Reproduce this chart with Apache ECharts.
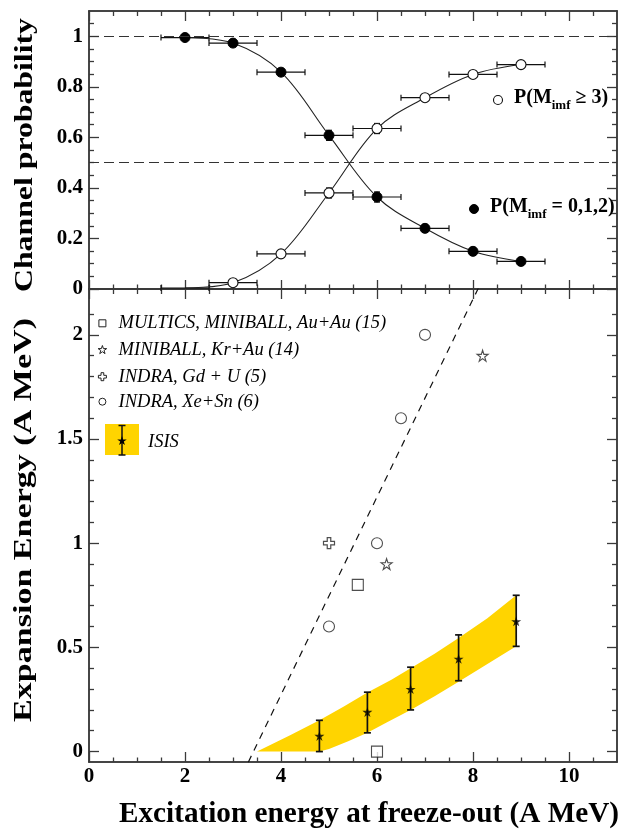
<!DOCTYPE html>
<html><head><meta charset="utf-8">
<script src="https://cdn.jsdelivr.net/npm/echarts@6/dist/echarts.min.js"></script>
<style>html,body{margin:0;padding:0;background:#fff}#c{width:623px;height:832px}</style>
</head><body><div id="c"></div>
<script>
// ---------- top panel: channel probabilities ----------
const probX = [2, 3, 4, 5, 6, 7, 8, 9];
const probXErr = [0.5, 0.5, 0.5, 0.5, 0.5, 0.5, 0.5, 0.5];
const probLow = [0.995, 0.973, 0.858, 0.608, 0.364, 0.240, 0.149, 0.109];   // P(Mimf = 0,1,2)
const probLowErr = [0.004, 0.006, 0.008, 0.02, 0.02, 0.015, 0.015, 0.015];
const probHigh = [0.004, 0.025, 0.139, 0.380, 0.635, 0.757, 0.849, 0.888]; // P(Mimf >= 3)
const probHighErr = [0.0, 0.005, 0.008, 0.02, 0.02, 0.012, 0.012, 0.012];
const refLevels = [1, 0.5];

// ---------- bottom panel: expansion energy ----------
const multicsX = [5.6, 6.0], multicsY = [0.80, 0.0];
const krAuX = [6.2, 8.2], krAuY = [0.90, 1.90];
const gdUX = [5.0], gdUY = [1.0];
const xeSnX = [5.0, 6.0, 6.5, 7.0], xeSnY = [0.60, 1.0, 1.60, 2.0];
const isisX = [4.8, 5.8, 6.7, 7.7, 8.9];
const isisY = [0.075, 0.19, 0.30, 0.445, 0.625];
const isisLo = [0.0, 0.09, 0.20, 0.34, 0.505];
const isisHi = [0.15, 0.285, 0.405, 0.56, 0.75];
const bandUpperX = [3.5, 4.2, 4.8, 5.3, 5.8, 6.3, 6.7, 7.2, 7.7, 8.3, 8.9];
const bandUpperY = [0.0, 0.08, 0.15, 0.215, 0.283, 0.345, 0.40, 0.47, 0.545, 0.64, 0.75];
const bandLowerX = [3.5, 4.8, 5.0, 5.4, 5.8, 6.2, 6.7, 7.2, 7.7, 8.3, 8.9];
const bandLowerY = [0.0, 0.0, 0.012, 0.05, 0.09, 0.14, 0.20, 0.265, 0.335, 0.42, 0.505];
const guideX = [3.2, 8.2], guideY = [-0.107, 2.266];

// ---------- ticks ----------
const xMajorTicks = [0, 2, 4, 6, 8, 10];
const xMinorTicks = [0.5, 1, 1.5, 2.5, 3, 3.5, 4.5, 5, 5.5, 6.5, 7, 7.5, 8.5, 9, 9.5, 10.5];
const xTickLabels = [0, 2, 4, 6, 8, 10];
const topYMajor = [0, 0.2, 0.4, 0.6, 0.8, 1];
const topYMinor = [0.05, 0.1, 0.15, 0.25, 0.3, 0.35, 0.45, 0.5, 0.55, 0.65, 0.7, 0.75, 0.85, 0.9, 0.95, 1.05];
const botYMajor = [0, 0.5, 1, 1.5, 2];
const botYMinor = [0.1, 0.2, 0.3, 0.4, 0.6, 0.7, 0.8, 0.9, 1.1, 1.2, 1.3, 1.4, 1.6, 1.7, 1.8, 1.9, 2.1];

const legendBottom = ['MULTICS, MINIBALL, Au+Au (15)', 'MINIBALL, Kr+Au (14)', 'INDRA, Gd + U (5)', 'INDRA, Xe+Sn (6)', 'ISIS'];

// ---------- styles ----------
const AX = '#3a3a3a';
const SERIF = '"Liberation Serif", "DejaVu Serif", serif';
const YELLOW = '#FFD400';
const X_MIN = 0, X_MAX = 11;
const TOP_RANGE = [0, 1.1], BOT_RANGE = [-0.05, 2.22];

const STAR = 'path://M50 0L61.23 34.55L97.55 34.55L68.17 55.9L79.39 90.45L50 69.1L20.61 90.45L31.83 55.9L2.45 34.55L38.77 34.55Z';
const CROSS = 'path://M34 0H66V34H100V66H66V100H34V66H0V34H34Z';

function mkX(g, pos, ticks, len, labels) {
  return {type:'value', gridIndex:g, position:pos, min:X_MIN, max:X_MAX,
    axisLine:{show:true, onZero:false, lineStyle:{color:AX, width:1.5}},
    axisTick:{show:true, inside:true, length:len, customValues:ticks, lineStyle:{color:AX, width:1.3}},
    axisLabel: labels ? {show:true, customValues:labels, margin:4, color:'#000', fontFamily:SERIF, fontWeight:'bold', fontSize:21} : {show:false},
    splitLine:{show:false}};
}
function mkY(g, pos, range, ticks, len, labels) {
  return {type:'value', gridIndex:g, position:pos, min:range[0], max:range[1],
    axisLine:{show:true, onZero:false, lineStyle:{color:AX, width:1.5}},
    axisTick:{show:true, inside:true, length:len, customValues:ticks, lineStyle:{color:AX, width:1.3}},
    axisLabel: labels ? {show:true, customValues:labels, margin:6, color:'#000', fontFamily:SERIF, fontWeight:'bold', fontSize:21} : {show:false},
    splitLine:{show:false}};
}

const xAxes = [], yAxes = [];
[[0, TOP_RANGE, topYMajor, topYMinor], [1, BOT_RANGE, botYMajor, botYMinor]].forEach(([g, rng, maj, mnr]) => {
  xAxes.push(mkX(g, 'bottom', xMajorTicks, g === 0 ? 9 : 10, g === 1 ? xTickLabels : null));
  xAxes.push(mkX(g, 'bottom', xMinorTicks, 4.5, null));
  xAxes.push(mkX(g, 'top', xMajorTicks, 10, null));
  xAxes.push(mkX(g, 'top', xMinorTicks, 5, null));
  yAxes.push(mkY(g, 'left', rng, maj, 10, maj));
  yAxes.push(mkY(g, 'left', rng, mnr, 5, null));
  yAxes.push(mkY(g, 'right', rng, maj, 10, null));
  yAxes.push(mkY(g, 'right', rng, mnr, 5, null));
});

function errRender(capPx, lw) {
  return function (params, api) {
    const x = api.value(0), y = api.value(1);
    const xl = api.value(2), xh = api.value(3), yl = api.value(4), yh = api.value(5);
    const st = {stroke:'#111', lineWidth:lw, fill:null};
    const ch = [];
    if (xh > xl) {
      const a = api.coord([xl, y]), b = api.coord([xh, y]);
      ch.push({type:'line', shape:{x1:a[0], y1:a[1], x2:b[0], y2:b[1]}, style:st});
      ch.push({type:'line', shape:{x1:a[0], y1:a[1]-capPx, x2:a[0], y2:a[1]+capPx}, style:st});
      ch.push({type:'line', shape:{x1:b[0], y1:b[1]-capPx, x2:b[0], y2:b[1]+capPx}, style:st});
    }
    if (yh > yl) {
      const a = api.coord([x, yl]), b = api.coord([x, yh]);
      ch.push({type:'line', shape:{x1:a[0], y1:a[1], x2:b[0], y2:b[1]}, style:st});
      ch.push({type:'line', shape:{x1:a[0]-capPx, y1:a[1], x2:a[0]+capPx, y2:a[1]}, style:st});
      ch.push({type:'line', shape:{x1:b[0]-capPx, y1:b[1], x2:b[0]+capPx, y2:b[1]}, style:st});
    }
    return {type:'group', children:ch};
  };
}

const lowErrData = probX.map((x, i) => [x, probLow[i], x - probXErr[i], x + probXErr[i], probLow[i] - probLowErr[i], probLow[i] + probLowErr[i]]);
const highErrData = probX.map((x, i) => [x, probHigh[i], x - probXErr[i], x + probXErr[i], probHigh[i] - probHighErr[i], probHigh[i] + probHighErr[i]]);
const isisErrData = isisX.map((x, i) => [x, isisY[i], x, x, isisLo[i], isisHi[i]]);

const series = [
  {type:'custom', xAxisIndex:0, yAxisIndex:0, renderItem:errRender(3, 1.2), data:lowErrData, z:3, silent:true},
  {type:'custom', xAxisIndex:0, yAxisIndex:0, renderItem:errRender(3, 1.2), data:highErrData, z:3, silent:true},
  {type:'line', xAxisIndex:0, yAxisIndex:0, data:probX.map((x, i) => [x, probLow[i]]), smooth:0.35,
   symbol:'circle', symbolSize:10, itemStyle:{color:'#000', borderColor:'#000', borderWidth:1},
   lineStyle:{color:'#222', width:1.1}, z:4, animation:false,
   markLine:{symbol:'none', silent:true, label:{show:false}, lineStyle:{type:[10, 5], color:'#333', width:1.2}, data:refLevels.map(v => ({yAxis:v}))}},
  {type:'line', xAxisIndex:0, yAxisIndex:0, data:probX.map((x, i) => ({value:[x, probHigh[i]], symbol: probHigh[i] < 0.01 ? 'none' : 'circle'})),
   smooth:0.35, symbol:'circle', symbolSize:10, itemStyle:{color:'#fff', borderColor:'#111', borderWidth:1.1},
   lineStyle:{color:'#222', width:1.1}, z:4, animation:false},

  // bottom panel
  {type:'custom', xAxisIndex:4, yAxisIndex:4, data:[[bandUpperX[0], bandUpperY[0]]], clip:true, z:1, silent:true,
   renderItem:(p, api) => {
     const pts = bandUpperX.map((x, i) => api.coord([x, bandUpperY[i]]))
       .concat(bandLowerX.map((x, i) => api.coord([x, bandLowerY[i]])).reverse());
     return {type:'polygon', shape:{points:pts, smooth:0}, style:{fill:YELLOW}};
   }},
  {type:'line', xAxisIndex:4, yAxisIndex:4, data:guideX.map((x, i) => [x, guideY[i]]), symbol:'none', clip:true,
   lineStyle:{color:'#111', width:1.2, type:[7, 6]}, z:2, animation:false},
  {type:'custom', xAxisIndex:4, yAxisIndex:4, renderItem:errRender(3.5, 1.7), data:isisErrData, z:5, silent:true},
  {type:'scatter', xAxisIndex:4, yAxisIndex:4, data:isisX.map((x, i) => [x, isisY[i]]), symbol:STAR, symbolSize:10,
   itemStyle:{color:'#000'}, z:6},
  {type:'scatter', xAxisIndex:4, yAxisIndex:4, data:multicsX.map((x, i) => [x, multicsY[i]]), symbol:'rect', symbolSize:11,
   itemStyle:{color:'#fff', borderColor:'#222', borderWidth:1.1}, z:6},
  {type:'scatter', xAxisIndex:4, yAxisIndex:4, data:krAuX.map((x, i) => [x, krAuY[i]]), symbol:STAR, symbolSize:11,
   itemStyle:{color:'#fff', borderColor:'#222', borderWidth:1.1}, z:6},
  {type:'scatter', xAxisIndex:4, yAxisIndex:4, data:gdUX.map((x, i) => [x, gdUY[i]]), symbol:CROSS, symbolSize:11,
   itemStyle:{color:'#fff', borderColor:'#222', borderWidth:1.2}, z:6},
  {type:'scatter', xAxisIndex:4, yAxisIndex:4, data:xeSnX.map((x, i) => [x, xeSnY[i]]), symbol:'circle', symbolSize:11,
   itemStyle:{color:'#fff', borderColor:'#222', borderWidth:1.1}, z:6}
];

// ---------- helpers for drawn legend glyphs ----------
function starPts(cx, cy, R) {
  const pts = [];
  for (let k = 0; k < 10; k++) {
    const r = k % 2 ? R * 0.382 : R;
    const a = -Math.PI / 2 + k * Math.PI / 5;
    pts.push([cx + r * Math.cos(a), cy + r * Math.sin(a)]);
  }
  return pts;
}
function crossPts(cx, cy, s) {
  const a = s * 0.34, b = s;
  return [[cx-a,cy-b],[cx+a,cy-b],[cx+a,cy-a],[cx+b,cy-a],[cx+b,cy+a],[cx+a,cy+a],[cx+a,cy+b],[cx-a,cy+b],[cx-a,cy+a],[cx-b,cy+a],[cx-b,cy-a],[cx-a,cy-a]];
}
const mctx = document.createElement('canvas').getContext('2d');
function fitScale(text, font, target) { mctx.font = font; return target / mctx.measureText(text).width; }

const titleFontV = 'bold 26px "Liberation Serif"';
const titleFontX = 'bold 30px "Liberation Serif"';
const legFont = 'italic 18.5px "Liberation Serif"';
const symStyle = {fill:'#fff', stroke:'#222', lineWidth:1};
const rowsY = [323.3, 350, 376.7, 401.7];
const legX = 102.4, legTextX = 118.6;

const graphic = [
  {type:'text', x:25, y:155, rotation:Math.PI/2, scaleX:fitScale('Channel probability', titleFontV, 274),
   style:{text:'Channel probability', font:titleFontV, fill:'#000', textAlign:'center', textVerticalAlign:'middle'}},
  {type:'text', x:24, y:520, rotation:Math.PI/2, scaleX:fitScale('Expansion Energy (A MeV)', titleFontV, 404),
   style:{text:'Expansion Energy (A MeV)', font:titleFontV, fill:'#000', textAlign:'center', textVerticalAlign:'middle'}},
  {type:'text', x:369, y:814, scaleX:fitScale('Excitation energy at freeze-out (A MeV)', titleFontX, 500),
   style:{text:'Excitation energy at freeze-out (A MeV)', font:titleFontX, fill:'#000', textAlign:'center', textVerticalAlign:'middle'}},
  // top legends
  {type:'circle', shape:{cx:498, cy:100, r:4.5}, style:{fill:'#fff', stroke:'#111', lineWidth:1.1}},
  {type:'text', x:514, y:100, style:{text:'{a|P(M}{s|imf}{a| \u2265 3)}', textVerticalAlign:'middle', textAlign:'left',
    rich:{a:{fontFamily:'Liberation Serif', fontWeight:'bold', fontSize:20, padding:[0,0,5,0], verticalAlign:'bottom', fill:'#000'},
          s:{fontFamily:'Liberation Serif', fontWeight:'bold', fontSize:13, verticalAlign:'bottom', fill:'#000'}}}},
  {type:'circle', shape:{cx:474, cy:209, r:4.5}, style:{fill:'#000', stroke:'#000', lineWidth:1}},
  {type:'text', x:490, y:209, style:{text:'{a|P(M}{s|imf}{a| = 0,1,2)}', textVerticalAlign:'middle', textAlign:'left',
    rich:{a:{fontFamily:'Liberation Serif', fontWeight:'bold', fontSize:20, padding:[0,0,5,0], verticalAlign:'bottom', fill:'#000'},
          s:{fontFamily:'Liberation Serif', fontWeight:'bold', fontSize:13, verticalAlign:'bottom', fill:'#000'}}}},
  // bottom legend
  {type:'rect', shape:{x:legX-3.5, y:rowsY[0]-3.5, width:7, height:7}, style:symStyle},
  {type:'polygon', shape:{points:starPts(legX, rowsY[1], 4.5)}, style:symStyle},
  {type:'polygon', shape:{points:crossPts(legX, rowsY[2], 4)}, style:symStyle},
  {type:'circle', shape:{cx:legX, cy:rowsY[3], r:3.5}, style:symStyle},
  {type:'rect', shape:{x:105, y:424, width:34, height:31}, style:{fill:YELLOW}},
  {type:'line', shape:{x1:122, y1:425.5, x2:122, y2:455}, style:{stroke:'#111', lineWidth:1.5}},
  {type:'line', shape:{x1:118.5, y1:425.5, x2:125.5, y2:425.5}, style:{stroke:'#111', lineWidth:1.5}},
  {type:'line', shape:{x1:118.5, y1:455, x2:125.5, y2:455}, style:{stroke:'#111', lineWidth:1.5}},
  {type:'polygon', shape:{points:starPts(122, 441, 5)}, style:{fill:'#000'}},
  {type:'text', x:148, y:442, style:{text:legendBottom[4], font:legFont, fill:'#000', textVerticalAlign:'middle'}}
];
rowsY.forEach((y, i) => graphic.push({type:'text', x:legTextX, y:y, style:{text:legendBottom[i], font:legFont, fill:'#000', textVerticalAlign:'middle'}}));

const chart = echarts.init(document.getElementById('c'), null, {renderer:'canvas'});
chart.setOption({
  animation:false,
  backgroundColor:'#fff',
  grid:[{left:89, top:11, width:528, height:278}, {left:89, top:289, width:528, height:473}],
  xAxis:xAxes, yAxis:yAxes, series:series, graphic:graphic
});
</script></body></html>
